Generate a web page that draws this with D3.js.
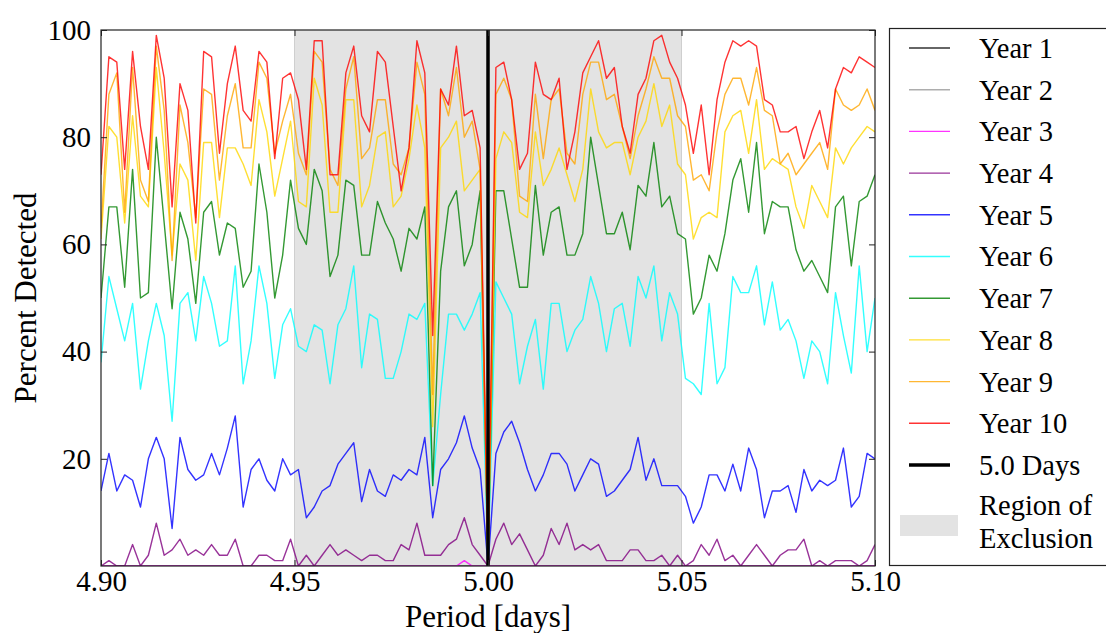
<!DOCTYPE html>
<html>
<head>
<meta charset="utf-8">
<script src="https://cdn.jsdelivr.net/npm/d3@7"></script>
<style>
  html, body { margin: 0; padding: 0; background: #fff; }
  svg text { font-family: "Liberation Serif", "Times New Roman", serif; fill: #000; }
</style>
</head>
<body>
<svg id="chart" width="1106" height="633"></svg>
<script>
// ---------------- DATA ----------------
const periods = [4.90000,4.90204,4.90408,4.90612,4.90816,4.91020,4.91224,4.91429,4.91633,4.91837,
 4.92041,4.92245,4.92449,4.92653,4.92857,4.93061,4.93265,4.93469,4.93673,4.93878,
 4.94082,4.94286,4.94490,4.94694,4.94898,4.95102,4.95306,4.95510,4.95714,4.95918,
 4.96122,4.96327,4.96531,4.96735,4.96939,4.97143,4.97347,4.97551,4.97755,4.97959,
 4.98163,4.98367,4.98571,4.98776,4.98980,4.99184,4.99388,4.99592,4.99796,5.00000,
 5.00204,5.00408,5.00612,5.00816,5.01020,5.01224,5.01429,5.01633,5.01837,5.02041,
 5.02245,5.02449,5.02653,5.02857,5.03061,5.03265,5.03469,5.03673,5.03878,5.04082,
 5.04286,5.04490,5.04694,5.04898,5.05102,5.05306,5.05510,5.05714,5.05918,5.06122,
 5.06327,5.06531,5.06735,5.06939,5.07143,5.07347,5.07551,5.07755,5.07959,5.08163,
 5.08367,5.08571,5.08776,5.08980,5.09184,5.09388,5.09592,5.09796,5.10000];

const year1 = [0,0,0,0,0,0,0,0,0,0, 0,0,0,0,0,0,0,0,0,0, 0,0,0,0,0,0,0,0,0,0, 0,0,0,0,0,0,0,0,0,0,
 0,0,0,0,0,0,0,0,0,0, 0,0,0,0,0,0,0,0,0,0, 0,0,0,0,0,0,0,0,0,0, 0,0,0,0,0,0,0,0,0,0,
 0,0,0,0,0,0,0,0,0,0, 0,0,0,0,0,0,0,0,0];
const year2 = [0,0,0,0,0,0,0,0,0,0, 0,0,0,0,0,0,0,0,0,0, 0,0,0,0,0,0,0,0,0,0, 0,0,0,0,0,0,0,0,0,0,
 0,0,0,0,0,0,0,0,0,0, 0,0,0,0,0,0,0,0,0,0, 0,0,0,0,0,0,0,0,0,0, 0,0,0,0,0,0,0,0,0,0,
 0,0,0,0,0,0,0,0,0,0, 0,0,0,0,0,0,0,0,0];
const year3 = [0,0,0,0,0,0,0,0,0,0, 0,0,0,0,0,0,0,0,0,0, 0,0,0,0,0,0,0,0,0,0, 0,0,0,0,0,0,0,0,0,0,
 0,0,0,0,0,0,1,0,0,0, 0,0,0,0,0,0,0,0,0,0, 0,0,0,0,0,0,0,0,0,0, 0,0,0,0,0,0,0,0,0,0,
 0,0,0,0,0,0,0,0,0,0, 0,0,0,0,0,0,0,0,0];
const year4 = [0,1,0,0,4,0,2,8,2,3, 5,2,3,2,4,2,2,5,0,0, 2,2,1,1,5,0,2,0,2,4,
 2,3,2,1,2,2,1,1,4,3, 8,2,2,2,4,5,9,4,2,0, 5,8,4,6,3,0,2,7,4,8,
 3,4,3,4,1,1,1,3,3,1, 1,2,0,2,0,1,4,2,5,1, 2,0,2,4,2,0,2,3,3,5,
 0,1,0,1,1,1,0,1,4];
const year5 = [14,21,14,17,16,11,20,24,20,7, 24,18,16,17,21,17,22,28,11,18,
 20,16,14,20,17,18,9,11,14,15, 19,21,23,12,18,14,13,17,16,18,
 17,24,9,18,20,23,28,22,18,0, 21,25,27,23,18,14,17,21,21,19,
 14,17,20,19,13,14,16,18,24,16, 20,15,15,15,13,8,11,17,17,14,
 19,14,22,18,9,14,14,15,10,18, 14,16,15,16,22,11,13,21,20];
const year6 = [38,54,48,42,49,33,42,49,43,27, 49,51,42,54,49,41,42,56,34,42,
 56,49,35,45,48,41,40,45,44,34, 45,48,56,37,47,46,35,35,40,47,
 46,49,15,32,47,47,44,47,51,0, 53,50,47,34,41,46,33,49,49,40,
 44,46,54,49,40,48,49,41,54,50, 56,42,51,47,35,34,32,49,34,37,
 54,51,51,56,45,53,44,46,42,35, 42,40,34,51,43,36,56,40,50];
const year7 = [50,67,67,52,74,50,51,80,64,48, 66,61,49,66,68,58,64,63,52,55,
 75,66,50,58,72,63,60,74,70,54, 58,72,71,58,58,68,64,61,55,63,
 61,67,15,55,67,70,56,60,70,0, 70,70,61,52,52,71,58,66,67,58,
 58,62,80,71,62,62,66,59,71,69, 79,67,69,62,61,47,50,58,55,62,
 72,76,66,79,62,68,67,67,59,55, 57,54,51,67,69,56,68,69,73];
const year8 = [61,82,80,64,84,69,67,93,77,58, 75,72,57,79,79,65,78,78,75,71,
 87,81,69,76,83,68,67,91,86,66, 66,87,87,67,71,80,81,67,69,76,
 86,78,26,78,80,83,70,72,74,0, 76,81,79,66,65,81,71,74,78,73,
 68,74,89,81,78,79,79,73,80,83, 90,82,86,75,73,61,65,66,65,81,
 84,85,77,87,74,76,75,74,67,63, 71,68,65,78,75,78,80,82,81];
const year9 = [63,88,92,66,93,72,68,97,85,57, 86,79,65,89,88,72,84,90,78,78,
 94,91,77,83,88,77,73,96,94,74, 71,89,95,76,78,87,87,75,73,78,
 94,88,32,89,84,93,80,83,74,0, 88,91,87,69,68,88,76,87,89,77,
 75,88,94,94,87,88,82,76,84,89, 95,91,91,84,82,72,73,70,81,88,
 91,91,86,93,85,84,75,77,73,75, 77,79,74,89,86,85,86,89,85];
const year10 = [73,95,94,74,96,82,74,99,91,67, 90,85,64,96,95,77,90,97,85,83,
 96,94,76,91,92,87,74,98,98,73, 73,92,97,84,81,96,94,82,70,78,
 98,92,43,89,86,97,84,85,78,0, 93,94,87,74,77,94,88,87,91,74,
 81,92,95,98,91,93,82,77,88,91, 98,99,94,91,86,77,86,73,87,94,
 98,97,98,97,87,86,81,81,82,76, 81,85,78,89,93,92,95,94,93];

const seriesNames = ["Year 1","Year 2","Year 3","Year 4","Year 5","Year 6","Year 7","Year 8","Year 9","Year 10"];
const seriesValues = [year1,year2,year3,year4,year5,year6,year7,year8,year9,year10];
const seriesColors = ["#000000","#999999","#ff00ff","#800080","#0000ff","#00ffff","#008000","#ffd700","#ffa500","#ff0000"];

const xTicks = [4.90, 4.95, 5.00, 5.05, 5.10];
const xTickLabels = ["4.90","4.95","5.00","5.05","5.10"];
const yTicks = [20, 40, 60, 80, 100];
const yTickLabels = ["20","40","60","80","100"];
const truePeriod = 5.0;
const exclusion = [4.95, 5.05];

// ---------------- LAYOUT ----------------
const svg = d3.select("#chart");
const L = 101, R = 875, T = 30, B = 566;
const x = d3.scaleLinear().domain([4.90, 5.10]).range([L, R]);
const y = d3.scaleLinear().domain([0, 100]).range([B, T]);

svg.append("defs").append("clipPath").attr("id","plotclip")
  .append("rect").attr("x", L).attr("y", T).attr("width", R - L).attr("height", B - T);

// exclusion region
svg.append("rect")
  .attr("x", x(exclusion[0])).attr("y", T)
  .attr("width", x(exclusion[1]) - x(exclusion[0])).attr("height", B - T)
  .attr("fill", "#e3e3e3");
exclusion.forEach(v => {
  svg.append("line").attr("x1", x(v)).attr("x2", x(v)).attr("y1", T).attr("y2", B)
    .attr("stroke", "#cfcfcf").attr("stroke-width", 1);
});

// lines
const line = d3.line().x((d, i) => x(periods[i])).y(d => y(d));
const g = svg.append("g").attr("clip-path", "url(#plotclip)");
seriesValues.forEach((vals, s) => {
  g.append("path").datum(vals)
    .attr("d", line)
    .attr("fill", "none")
    .attr("stroke", seriesColors[s])
    .attr("stroke-opacity", 0.8)
    .attr("stroke-width", 1.4)
    .attr("stroke-linejoin", "round");
});

// 5.0 days line
svg.append("line")
  .attr("x1", x(truePeriod)).attr("x2", x(truePeriod))
  .attr("y1", T).attr("y2", B)
  .attr("stroke", "#000").attr("stroke-width", 3.5);

// frame
svg.append("rect").attr("x", L).attr("y", T).attr("width", R - L).attr("height", B - T)
  .attr("fill", "none").attr("stroke", "#222").attr("stroke-width", 1.2);

// axes via d3 axis generators (ticks inside)
const xAxisB = d3.axisBottom(x).tickValues(xTicks).tickFormat((d, i) => xTickLabels[i])
  .tickSizeInner(-6).tickSizeOuter(0).tickPadding(3);
const gx = svg.append("g").attr("transform", `translate(0,${B})`).call(xAxisB);
gx.select(".domain").remove();
gx.selectAll("text").attr("font-size", 29).style("font-family", '"Liberation Serif", serif').attr("dy", "0.75em");
gx.selectAll("line").attr("stroke", "#222");

const xAxisT = d3.axisTop(x).tickValues(xTicks).tickFormat("").tickSizeInner(-6).tickSizeOuter(0);
const gxt = svg.append("g").attr("transform", `translate(0,${T})`).call(xAxisT);
gxt.select(".domain").remove();
gxt.selectAll("line").attr("stroke", "#222");

const yAxisL = d3.axisLeft(y).tickValues(yTicks).tickFormat((d, i) => yTickLabels[i])
  .tickSizeInner(-6).tickSizeOuter(0).tickPadding(10);
const gy = svg.append("g").attr("transform", `translate(${L},0)`).call(yAxisL);
gy.select(".domain").remove();
gy.selectAll("text").attr("font-size", 29).style("font-family", '"Liberation Serif", serif');
gy.selectAll("line").attr("stroke", "#222");

const yAxisR = d3.axisRight(y).tickValues(yTicks).tickFormat("").tickSizeInner(-6).tickSizeOuter(0);
const gyr = svg.append("g").attr("transform", `translate(${R},0)`).call(yAxisR);
gyr.select(".domain").remove();
gyr.selectAll("line").attr("stroke", "#222");

// axis titles
svg.append("text").attr("x", (L + R) / 2).attr("y", 627)
  .attr("text-anchor", "middle").attr("font-size", 31).text("Period [days]");
svg.append("text").attr("transform", `translate(36,${(T + B) / 2}) rotate(-90)`)
  .attr("text-anchor", "middle").attr("font-size", 31).text("Percent Detected");

// legend
const lg = svg.append("g");
lg.append("rect").attr("x", 889.5).attr("y", 28.5).attr("width", 240).attr("height", 537)
  .attr("fill", "#fff").attr("stroke", "#222").attr("stroke-width", 1.2);
const rowY = i => 48 + i * 41.7;
seriesNames.forEach((name, i) => {
  lg.append("line").attr("x1", 909).attr("x2", 950).attr("y1", rowY(i)).attr("y2", rowY(i))
    .attr("stroke", seriesColors[i]).attr("stroke-opacity", 0.8).attr("stroke-width", 1.4);
  lg.append("text").attr("x", 979).attr("y", rowY(i)).attr("dy", "0.35em")
    .attr("font-size", 28.5).text(name);
});
lg.append("line").attr("x1", 909).attr("x2", 950).attr("y1", rowY(10)).attr("y2", rowY(10))
  .attr("stroke", "#000").attr("stroke-width", 3.5);
lg.append("text").attr("x", 979).attr("y", rowY(10)).attr("dy", "0.35em")
  .attr("font-size", 28.5).text("5.0 Days");
lg.append("rect").attr("x", 900).attr("y", 515).attr("width", 58).attr("height", 21)
  .attr("fill", "#e3e3e3");
lg.append("text").attr("x", 979).attr("y", 505).attr("dy", "0.35em").attr("font-size", 28.5).text("Region of");
lg.append("text").attr("x", 979).attr("y", 538).attr("dy", "0.35em").attr("font-size", 28.5).text("Exclusion");
</script>
</body>
</html>
